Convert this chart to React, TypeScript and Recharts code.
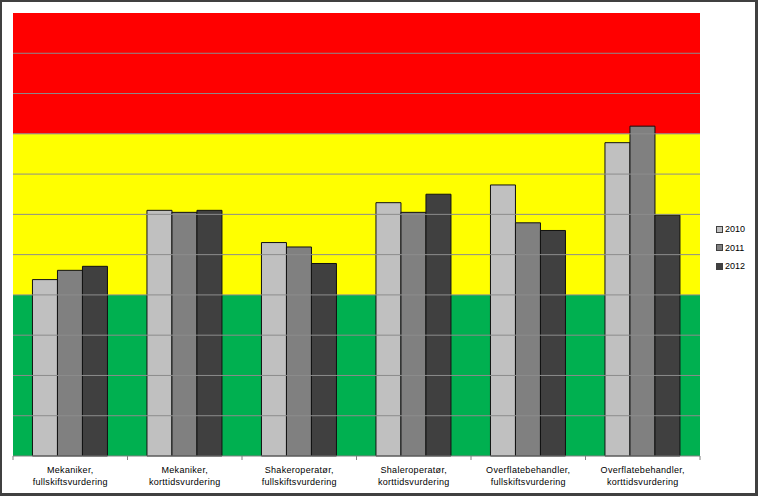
import React from 'react';
import { BarChart, Bar, XAxis, YAxis, ReferenceArea, ReferenceLine } from 'recharts';

const categories = [
  'Mekaniker, fullskiftsvurdering',
  'Mekaniker, korttidsvurdering',
  'Shakeroperatør, fullskiftsvurdering',
  'Shaleroperatør, korttidsvurdering',
  'Overflatebehandler, fullskiftsvurdering',
  'Overflatebehandler, korttidsvurdering',
];
const series2010 = [4.38, 6.1, 5.3, 6.29, 6.73, 7.78];
const series2011 = [4.61, 6.05, 5.19, 6.05, 5.79, 8.19];
const series2012 = [4.71, 6.1, 4.78, 6.5, 5.6, 5.98];
const yTicks = [0, 1, 2, 3, 4, 5, 6, 7, 8, 9, 10, 11];
const gridValues = [1, 2, 3, 4, 5, 6, 7, 8, 9, 10];
const bands = [
  { from: 0, to: 4, color: '#00B050' },
  { from: 4, to: 8, color: '#FFFF00' },
  { from: 8, to: 11, color: '#FF0000' },
];
const seriesInfo = [
  { key: 'y2010', name: '2010', color: '#C0C0C0' },
  { key: 'y2011', name: '2011', color: '#808080' },
  { key: 'y2012', name: '2012', color: '#404040' },
];

const data = categories.map((c, i) => ({
  name: c,
  y2010: series2010[i],
  y2011: series2011[i],
  y2012: series2012[i],
}));

const HALF = (700 - 13) / 6 / 2;
const FONT = "'Liberation Sans', Arial, sans-serif";

const Tick = (props: any) => {
  const { x, y, payload, index } = props;
  const parts = String(payload.value).split(', ');
  const isLast = index === categories.length - 1;
  return (
    <g>
      <line x1={x - HALF} x2={x - HALF} y1={y - 8} y2={y - 4} stroke="#808080" />
      {isLast && <line x1={x + HALF} x2={x + HALF} y1={y - 8} y2={y - 4} stroke="#808080" />}
      <text x={x} y={y + 9} textAnchor="middle" fontSize={9} letterSpacing={0.3} fontFamily={FONT} fill="#000">
        {parts[0] + ','}
      </text>
      <text x={x} y={y + 21} textAnchor="middle" fontSize={9} letterSpacing={0.3} fontFamily={FONT} fill="#000">
        {parts[1]}
      </text>
    </g>
  );
};

export default function App() {
  return (
    <div style={{ position: 'absolute', left: 0, top: 0, width: 758, height: 496, background: '#fff' }}>
      <BarChart
        width={758}
        height={496}
        data={data}
        margin={{ top: 13, right: 58, left: 13, bottom: 0 }}
        barCategoryGap="17%"
        barGap={0}
      >
        <YAxis hide domain={[0, 11]} ticks={yTicks} type="number" />
        <XAxis
          dataKey="name"
          height={40}
          interval={0}
          tickLine={false}
          axisLine={{ stroke: '#808080' }}
          tick={<Tick />}
        />
        {bands.map((b) => (
          <ReferenceArea key={b.color} y1={b.from} y2={b.to} fill={b.color} fillOpacity={1} stroke="none" ifOverflow="hidden" />
        ))}
        {gridValues.map((v) => (
          <ReferenceLine key={v} y={v} stroke="#8c8c8c" strokeWidth={1} />
        ))}
        {seriesInfo.map((s) => (
          <Bar key={s.key} dataKey={s.key} name={s.name} fill={s.color} stroke="#111" strokeWidth={1} isAnimationActive={false} />
        ))}
      </BarChart>
      <div style={{ position: 'absolute', left: 716, top: 220, fontFamily: FONT, fontSize: 9, color: '#000' }}>
        {seriesInfo.map((s) => (
          <div key={s.key} style={{ display: 'flex', alignItems: 'center', height: 18.5 }}>
            <span style={{ display: 'inline-block', width: 5, height: 5, background: s.color, border: '1px solid #404040', marginRight: 2 }} />
            <span>{s.name}</span>
          </div>
        ))}
      </div>
      <div
        style={{
          position: 'absolute',
          left: 0,
          top: 0,
          width: 758,
          height: 496,
          boxSizing: 'border-box',
          borderTop: '2px solid #404040',
          borderLeft: '2px solid #404040',
          borderRight: '3px solid #404040',
          borderBottom: '3px solid #404040',
          pointerEvents: 'none',
        }}
      />
    </div>
  );
}
